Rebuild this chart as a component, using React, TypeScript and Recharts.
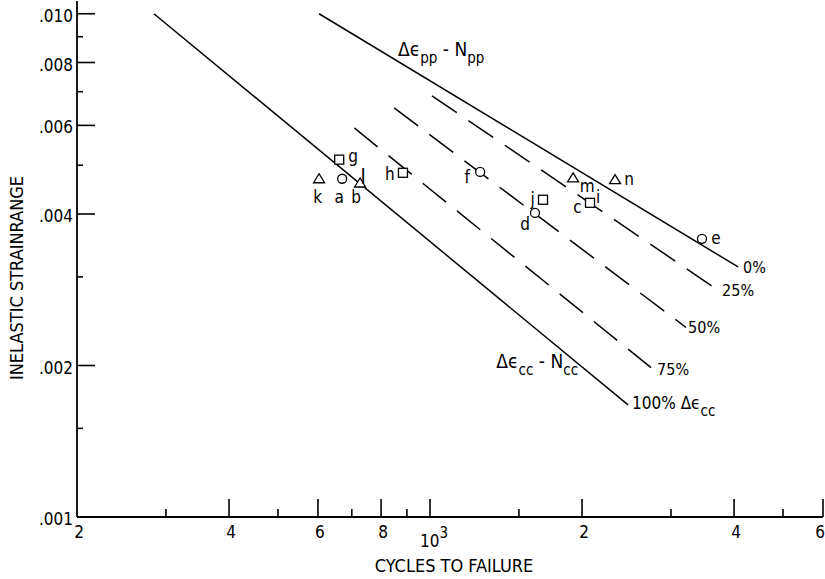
import { Scatter, ScatterChart, XAxis, YAxis } from "recharts";

const FONT = "'Liberation Sans Narrow', 'DejaVu Sans Condensed', 'Arial Narrow', sans-serif";

// axis ticks (log-log)
const X_TICKS = [200, 300, 400, 500, 600, 700, 800, 900, 1000, 1500, 2000, 3000, 4000, 5000, 6000];
const X_TICK_LABELS: Record<number, string> = {
  200: "2",
  400: "4",
  600: "6",
  800: "8",
  1000: "10",
  2000: "2",
  4000: "4",
  6000: "6",
};
const Y_TICKS = [0.001, 0.0015, 0.002, 0.003, 0.004, 0.005, 0.006, 0.007, 0.008, 0.009, 0.01];
const Y_TICK_LABELS: Record<number, string> = {
  0.001: ".001",
  0.002: ".002",
  0.004: ".004",
  0.006: ".006",
  0.008: ".008",
  0.01: ".010",
};

// life relations: n = cycles to failure, e = inelastic strainrange
const PP_LINE = [
  { n: 603, e: 0.01 },
  { n: 4074, e: 0.00314 },
];
const CC_LINE = [
  { n: 284, e: 0.01 },
  { n: 2467, e: 0.00167 },
];
const LINE_25 = [
  { n: 1009, e: 0.00687 },
  { n: 3685, e: 0.00284 },
];
const LINE_50 = [
  { n: 849, e: 0.0065 },
  { n: 3214, e: 0.00238 },
];
const LINE_75 = [
  { n: 708, e: 0.00593 },
  { n: 2740, e: 0.00198 },
];

// test points
const CIRCLES = [
  { id: "a", n: 670, e: 0.0047 },
  { id: "f", n: 1257, e: 0.00485 },
  { id: "d", n: 1614, e: 0.00402 },
  { id: "e", n: 3456, e: 0.00357 },
];
const SQUARES = [
  { id: "g", n: 661, e: 0.00513 },
  { id: "h", n: 884, e: 0.00483 },
  { id: "j", n: 1674, e: 0.00427 },
  { id: "c", n: 2074, e: 0.00421 },
];
const TRIANGLES = [
  { id: "k", n: 603, e: 0.0047 },
  { id: "b", n: 727, e: 0.00461 },
  { id: "m", n: 1920, e: 0.00472 },
  { id: "n", n: 2325, e: 0.00468 },
];

// where each point's letter(s) sit relative to the marker
const LABEL_OFFSETS: Record<string, [string, number, number][]> = {
  k: [["k", -1.5, 24]],
  a: [["a", -3, 24]],
  b: [
    ["b", -4, 20],
    ["l", 3, 1],
  ],
  g: [["g", 14, 2]],
  h: [["h", -13, 7]],
  f: [["f", -13, 11]],
  j: [["j", -10.5, 5]],
  d: [["d", -10, 17]],
  c: [
    ["c", -12.5, 10],
    ["i", 8, 0],
  ],
  m: [["m", 14, 14]],
  n: [["n", 14, 5]],
  e: [["e", 14, 5]],
};

const SUB = 15;

function XTick({ x, y, payload }: any) {
  const v = payload.value as number;
  const label = X_TICK_LABELS[v];
  const len = label ? 18 : 8;
  return (
    <g>
      {v !== 200 && <line x1={x} y1={y} x2={x} y2={y - len} stroke="#000" strokeWidth={1.6} />}
      {label && v === 1000 ? (
        <text x={x - 10} y={y + 30} fontSize={17} fontFamily={FONT} fill="#000">
          10
          <tspan dy={-9} fontSize={15}>
            3
          </tspan>
        </text>
      ) : label ? (
        <text
          x={v === 6000 ? 825 : x + 2}
          y={y + 21}
          fontSize={17}
          fontFamily={FONT}
          fill="#000"
          textAnchor={v === 6000 ? "end" : "middle"}
        >
          {label}
        </text>
      ) : null}
    </g>
  );
}

function YTick({ x, y, payload }: any) {
  const v = payload.value as number;
  const label = Y_TICK_LABELS[v];
  const len = label ? 18 : 6;
  return (
    <g>
      {v !== 0.001 && <line x1={x} y1={y} x2={x + len} y2={y} stroke="#000" strokeWidth={1.6} />}
      {label && (
        <text x={x - 4} y={y + 8} fontSize={17} fontFamily={FONT} fill="#000" textAnchor="end">
          {label}
        </text>
      )}
    </g>
  );
}

function pointLabels(id: string, cx: number, cy: number) {
  return (LABEL_OFFSETS[id] || []).map(([t, dx, dy]) => (
    <text
      key={t}
      x={cx + dx}
      y={cy + dy}
      fontSize={t === "l" ? 21 : 17}
      fontFamily={FONT}
      fill="#000"
      textAnchor="middle"
    >
      {t}
    </text>
  ));
}

const CircleMark = (p: any) => (
  <g>
    <circle cx={p.cx} cy={p.cy} r={4.5} fill="#fff" stroke="#000" strokeWidth={1.3} />
    {pointLabels(p.payload.id, p.cx, p.cy)}
  </g>
);
const SquareMark = (p: any) => (
  <g>
    <rect x={p.cx - 4.5} y={p.cy - 4.5} width={9} height={9} fill="#fff" stroke="#000" strokeWidth={1.3} />
    {pointLabels(p.payload.id, p.cx, p.cy)}
  </g>
);
const TriangleMark = (p: any) => (
  <g>
    <polygon
      points={`${p.cx},${p.cy - 5} ${p.cx - 5.5},${p.cy + 4} ${p.cx + 5.5},${p.cy + 4}`}
      fill="#fff"
      stroke="#000"
      strokeWidth={1.3}
    />
    {pointLabels(p.payload.id, p.cx, p.cy)}
  </g>
);

// line end shapes: nothing but an annotation at the chosen end
function endLabel(data: { n: number }[], atStart: boolean, render: (cx: number, cy: number) => any) {
  const target = atStart ? data[0].n : data[data.length - 1].n;
  return (p: any) => <g>{p.payload.n === target ? render(p.cx, p.cy) : null}</g>;
}

const pctText = (text: string, dx: number, dy: number) => (cx: number, cy: number) => (
  <text x={cx + dx} y={cy + dy} fontSize={16} fontFamily={FONT} fill="#000">
    {text}
  </text>
);

export default function App() {
  const dash = "30 14";
  return (
    <div style={{ position: "absolute", left: 0, top: 0, background: "#fff" }}>
      <ScatterChart width={825} height={579} margin={{ top: 1, right: 2, bottom: 0, left: 0 }}>
        <XAxis
          type="number"
          dataKey="n"
          scale="log"
          domain={[200, 6000]}
          allowDataOverflow
          ticks={X_TICKS}
          interval={0}
          tickSize={0}
          tickMargin={0}
          tickLine={false}
          tick={<XTick />}
          height={62}
          stroke="#000"
          strokeWidth={1.8}
        />
        <YAxis
          type="number"
          dataKey="e"
          scale="log"
          domain={[0.001, 0.0106]}
          allowDataOverflow
          ticks={Y_TICKS}
          interval={0}
          tickSize={0}
          tickMargin={0}
          tickLine={false}
          tick={<YTick />}
          width={77}
          stroke="#000"
          strokeWidth={1.8}
        />
        <Scatter
          data={PP_LINE}
          fill="none"
          line={{ stroke: "#000", strokeWidth: 1.5 }}
          shape={endLabel(PP_LINE, false, pctText("0%", 5, 6))}
          isAnimationActive={false}
        />
        <Scatter
          data={PP_LINE}
          fill="none"
          shape={endLabel(PP_LINE, true, (cx, cy) => (
            <text x={cx + 79} y={cy + 42} fontSize={19} fontFamily={FONT} fill="#000">
              Δϵ
              <tspan dy={7} fontSize={SUB}>
                pp
              </tspan>
              <tspan dy={-7}> - N</tspan>
              <tspan dy={7} fontSize={SUB}>
                pp
              </tspan>
            </text>
          ))}
          isAnimationActive={false}
        />
        <Scatter
          data={LINE_25}
          fill="none"
          line={{ stroke: "#000", strokeWidth: 1.5, strokeDasharray: dash }}
          shape={endLabel(LINE_25, false, pctText("25%", 6, 7))}
          isAnimationActive={false}
        />
        <Scatter
          data={LINE_50}
          fill="none"
          line={{ stroke: "#000", strokeWidth: 1.5, strokeDasharray: dash }}
          shape={endLabel(LINE_50, false, pctText("50%", 2, 6))}
          isAnimationActive={false}
        />
        <Scatter
          data={LINE_75}
          fill="none"
          line={{ stroke: "#000", strokeWidth: 1.5, strokeDasharray: dash }}
          shape={endLabel(LINE_75, false, pctText("75%", 6, 7))}
          isAnimationActive={false}
        />
        <Scatter
          data={CC_LINE}
          fill="none"
          line={{ stroke: "#000", strokeWidth: 1.5 }}
          shape={endLabel(CC_LINE, false, (cx, cy) => (
            <g>
              <text x={cx + 4} y={cy + 4} fontSize={17} fontFamily={FONT} fill="#000">
                100% Δϵ
                <tspan dy={7} fontSize={SUB}>
                  cc
                </tspan>
              </text>
              <text x={cx - 50} y={cy - 37} fontSize={19} fontFamily={FONT} fill="#000" textAnchor="end">
                Δϵ
                <tspan dy={7} fontSize={SUB}>
                  cc
                </tspan>
                <tspan dy={-7}> - N</tspan>
                <tspan dy={7} fontSize={SUB}>
                  cc
                </tspan>
              </text>
            </g>
          ))}
          isAnimationActive={false}
        />
        <Scatter data={CIRCLES} shape={CircleMark} isAnimationActive={false} />
        <Scatter data={SQUARES} shape={SquareMark} isAnimationActive={false} />
        <Scatter data={TRIANGLES} shape={TriangleMark} isAnimationActive={false} />
        <text x={454} y={572} fontSize={18} fontFamily={FONT} fill="#000" textAnchor="middle">
          CYCLES TO FAILURE
        </text>
        <text
          x={23}
          y={278}
          fontSize={18}
          fontFamily={FONT}
          fill="#000"
          textAnchor="middle"
          transform="rotate(-90 23 278)"
        >
          INELASTIC STRAINRANGE
        </text>
      </ScatterChart>
    </div>
  );
}
